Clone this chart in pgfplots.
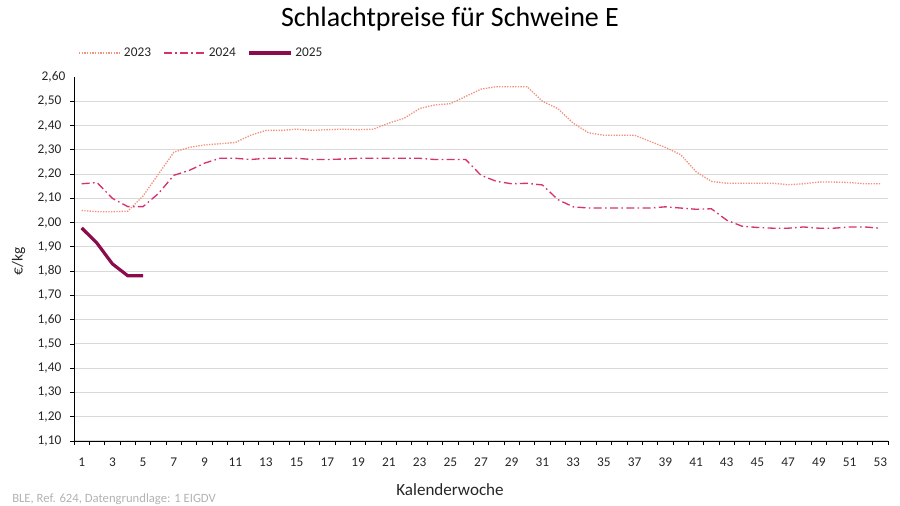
\documentclass[border=0pt]{standalone}
\usepackage{pgfplots}
\pgfplotsset{compat=1.18}
\usepackage{fontspec}
\setmainfont{Carlito}
\definecolor{c23}{HTML}{F2917C}
\definecolor{c24}{HTML}{D6336E}
\definecolor{c25}{HTML}{8A0C4C}
\definecolor{gridc}{HTML}{D9D9D9}
\definecolor{txt}{HTML}{262626}
\begin{document}
\begin{tikzpicture}
\useasboundingbox (0,0) rectangle (675pt,-379.5pt);
\begin{axis}[
  at={(55.5pt,-330.75pt)}, anchor=south west,
  scale only axis, width=610.5pt, height=273pt,
  xmin=0.5, xmax=53.5, ymin=1.1, ymax=2.6,
  axis x line*=bottom, axis y line*=left,
  axis line style={black, line width=0.6pt},
  /pgf/number format/assume math mode=true,
  xtick={1,3,...,53},
  x tick style={draw=none},
  extra x ticks={0.5,1.5,...,53.5},
  extra x tick labels={},
  extra x tick style={grid=none, x tick style={draw=black, line width=0.6pt}, major tick length=3pt},
  ytick={1.1,1.2,1.3,1.4,1.5,1.6,1.7,1.8,1.9,2.0,2.1,2.2,2.3,2.4,2.5},
  extra y ticks={2.6},
  extra y tick style={grid=none, major tick length=0pt},
  y tick style={black, line width=0.6pt},
  major tick length=3pt,
  tick align=outside,
  ymajorgrids, grid style={gridc, line width=0.8pt},
  yticklabel style={xshift=-3pt, /pgf/number format/use comma, /pgf/number format/fixed, /pgf/number format/fixed zerofill, /pgf/number format/precision=2},
  ticklabel style={font=\fontsize{10}{12}\selectfont, text=txt},
  xticklabel style={yshift=-6pt},
  legend style={at={(0.0,1.066)}, anchor=west, draw=none, fill=none, legend columns=3,
    font=\fontsize{10}{12}\selectfont, text=txt,
    /tikz/every even column/.append style={column sep=7pt}},
  legend cell align=left,
  legend image code/.code={\draw[#1] (0cm,0cm) -- (1.1cm,0cm);},
  clip=false,
]
\addplot[c23, line width=1pt, dash pattern=on 1pt off 1pt] coordinates {
(1,2.05)(2,2.045)(3,2.045)(4,2.047)(5,2.11)(6,2.20)(7,2.29)(8,2.31)(9,2.32)(10,2.325)
(11,2.33)(12,2.36)(13,2.38)(14,2.38)(15,2.385)(16,2.38)(17,2.383)(18,2.385)(19,2.383)(20,2.385)
(21,2.41)(22,2.43)(23,2.47)(24,2.485)(25,2.49)(26,2.52)(27,2.55)(28,2.56)(29,2.56)(30,2.56)
(31,2.50)(32,2.47)(33,2.41)(34,2.37)(35,2.36)(36,2.36)(37,2.36)(38,2.335)(39,2.31)(40,2.28)
(41,2.21)(42,2.17)(43,2.162)(44,2.162)(45,2.162)(46,2.162)(47,2.156)(48,2.16)(49,2.167)(50,2.167)
(51,2.165)(52,2.16)(53,2.16)};
\addlegendentry{2023}
\addplot[c24, line width=1pt, dash pattern=on 6pt off 2.5pt on 1.2pt off 2.5pt] coordinates {
(1,2.16)(2,2.165)(3,2.10)(4,2.066)(5,2.066)(6,2.12)(7,2.195)(8,2.215)(9,2.245)(10,2.265)
(11,2.265)(12,2.26)(13,2.265)(14,2.265)(15,2.265)(16,2.26)(17,2.26)(18,2.262)(19,2.265)(20,2.265)
(21,2.265)(22,2.265)(23,2.265)(24,2.26)(25,2.26)(26,2.26)(27,2.195)(28,2.17)(29,2.16)(30,2.162)
(31,2.155)(32,2.095)(33,2.065)(34,2.06)(35,2.06)(36,2.06)(37,2.06)(38,2.06)(39,2.065)(40,2.06)
(41,2.055)(42,2.057)(43,2.01)(44,1.985)(45,1.98)(46,1.977)(47,1.977)(48,1.982)(49,1.977)(50,1.977)
(51,1.982)(52,1.982)(53,1.977)};
\addlegendentry{2024}
\addplot[c25, line width=2.4pt] coordinates {
(1,1.978)(2,1.915)(3,1.83)(4,1.781)(5,1.781)};
\addlegendentry{2025}
\end{axis}
\node[font=\fontsize{21}{24}\selectfont, text=black] at (337.5pt,-14.5pt) {Schlachtpreise für Schweine E};
\node[font=\fontsize{12.8}{15}\selectfont, text=txt] at (337.5pt,-367pt) {Kalenderwoche};
\node[font=\fontsize{11.5}{14}\selectfont, text=txt, rotate=90] at (14pt,-196pt) {€/kg};
\node[font=\fontsize{9.5}{11}\selectfont, text=gray!60, anchor=base west, inner sep=0pt] at (9pt,-376.5pt) {BLE, Ref. 624, Datengrundlage: 1 EIGDV};
\end{tikzpicture}
\end{document}
